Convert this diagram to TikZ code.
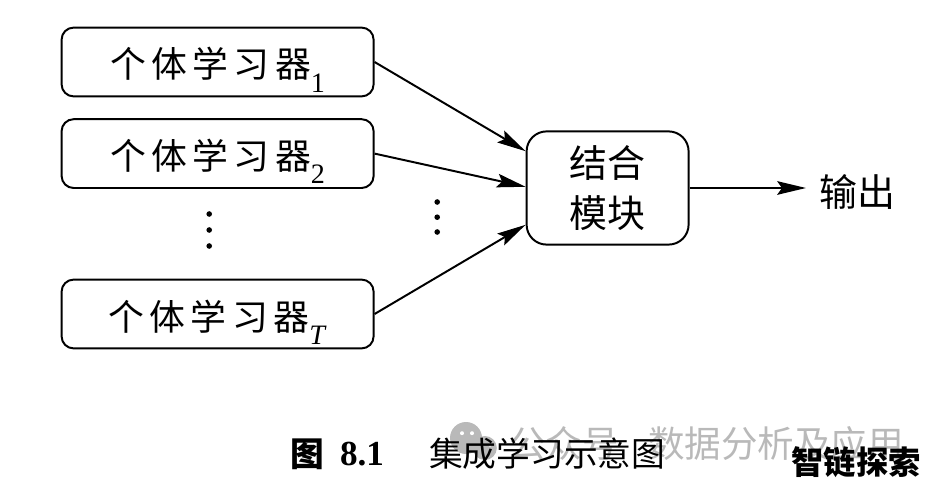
\documentclass[tikz,border=0pt]{standalone}
\usepackage{fontspec}
\usepackage{tikz}
\usetikzlibrary{arrows.meta}
\newfontfamily\cjk{Noto Sans CJK SC}
\newfontfamily\cjkwide[LetterSpace=15]{Noto Sans CJK SC}
\newfontfamily\capnum{Liberation Serif}
\newcommand{\lowidx}[1]{\raisebox{-10pt}{\capnum\fontsize{20}{20}\selectfont #1}}
\tikzset{
  indbox/.style={draw,line width=1.4pt,rounded corners=0.3cm,minimum width=7.8cm,minimum height=1.72cm,inner sep=0pt,text height=0.9cm,text depth=0.1cm,font=\cjkwide\fontsize{25.5}{25.5}\selectfont},
  combbox/.style={draw,line width=1.4pt,rounded corners=0.5cm,minimum width=4.05cm,minimum height=2.83cm,inner sep=0pt,align=center,font=\cjk\fontsize{27}{35}\selectfont},
  dot/.style={circle,fill=black,inner sep=0pt,minimum size=0.14cm},
  link/.style={line width=1.4pt,-{Stealth[length=0.72cm,width=0.34cm,inset=0.12cm]}},
  wmark/.style={gray!55,font=\cjk\fontsize{26}{26}\selectfont},
  capt/.style={inner sep=0pt,font=\cjk\fontsize{24}{24}\selectfont}
}
\begin{document}
\begin{tikzpicture}
\useasboundingbox (0,0) rectangle (23.5,12.35);

% watermark
\fill[gray!55] (11.65,1.4) circle (0.4);
\fill[gray!55] (12.12,1.15) circle (0.3);
\fill[white] (11.55,1.52) circle (0.05);
\fill[white] (11.8,1.52) circle (0.05);
\fill[white] (12.05,1.22) circle (0.04);
\fill[white] (12.25,1.22) circle (0.04);
\node[wmark] (w1) at (14.1,1.27) {公众号};
\node[wmark] (w2) at (19.4,1.27) {数据分析及应用};

\node[indbox] (1) at (5.44,10.8) {个体学习器\lowidx{1}};
\node[indbox] (2) at (5.44,8.51) {个体学习器\lowidx{2}};
\node[indbox] (3) at (5.44,4.5) {个体学习器\lowidx{\textit{T}}};

\node[combbox] (4) at (15.19,7.65) {结合\\模块};
\node[inner sep=0pt,font=\cjk\fontsize{27}{27}\selectfont] (5) at (21.43,7.55) {输出};
\coordinate (6) at (20.15,7.65);

\draw[link] (1.east) -- ([yshift=0.92cm]4.west);
\draw[link] (2.east) -- ([yshift=0.03cm]4.west);
\draw[link] (3.east) -- ([yshift=-0.92cm]4.west);
\draw[link] (4.east) -- (6);

\node[dot] (a1) at (5.23,7) {};
\node[dot] (a2) at (5.23,6.6) {};
\node[dot] (a3) at (5.23,6.2) {};

\node[dot] (b1) at (10.93,7.3) {};
\node[dot] (b2) at (10.93,6.92) {};
\node[dot] (b3) at (10.93,6.55) {};

\node[capt,font=\cjk\bfseries\fontsize{24}{24}\selectfont] (c1) at (7.68,1) {图};
\node[capt,font=\capnum\bfseries\fontsize{25}{25}\selectfont] (c2) at (9.05,1) {8.1};
\node[capt] (c3) at (13.68,1) {集成学习示意图};

\node[inner sep=0pt,font=\cjk\bfseries\fontsize{23}{23}\selectfont] (c4) at (21.4,0.8) {智链探索};
\end{tikzpicture}
\end{document}
